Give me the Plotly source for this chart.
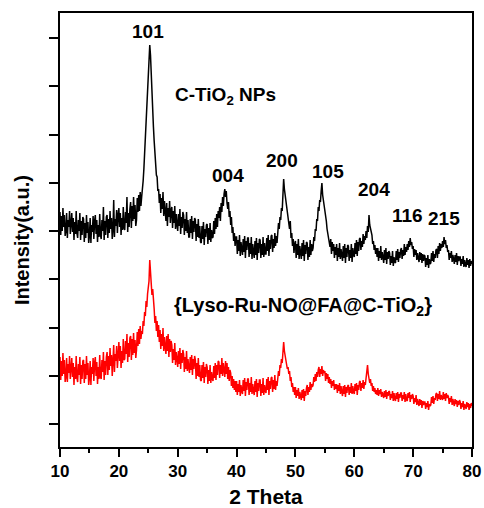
import plotly.graph_objects as go

# Scan settings (2 Theta, degrees)
scan_start = 10.0
scan_step = 0.125

# Intensities (a.u.), 8 readings per degree from 10.000 to 80.000 degrees
c_tio2 = [
    235, 212, 231, 216, 239, 220, 232, 211,
    216, 234, 209, 227, 220, 236, 213, 231,
    234, 215, 229, 207, 225, 213, 236, 214,
    209, 227, 216, 234, 207, 226, 212, 230,
    228, 205, 224, 209, 232, 214, 225, 204,
    211, 229, 204, 222, 215, 231, 208, 226,
    232, 213, 227, 205, 222, 210, 233, 212,
    208, 227, 216, 240, 207, 226, 212, 230,
    232, 209, 228, 214, 236, 218, 229, 208,
    217, 247, 210, 228, 221, 237, 214, 232,
    239, 220, 234, 212, 229, 217, 240, 219,
    217, 235, 224, 250, 215, 234, 220, 238,
    245, 219, 241, 226, 250, 228, 242, 221,
    227, 249, 235, 252, 236, 255, 241, 250,
    256, 266, 278, 292, 305, 322, 338, 355,
    372, 388, 402, 392, 368, 350, 334, 320,
    306, 292, 285, 272, 270, 256, 258, 244,
    253, 234, 249, 238, 255, 231, 246, 233,
    226, 244, 221, 239, 230, 246, 224, 237,
    240, 219, 236, 224, 241, 218, 233, 222,
    216, 233, 221, 238, 213, 230, 219, 235,
    232, 212, 228, 216, 235, 214, 227, 210,
    210, 228, 214, 231, 208, 226, 215, 229,
    227, 206, 223, 210, 228, 209, 221, 205,
    204, 221, 208, 225, 202, 218, 210, 222,
    223, 203, 219, 207, 224, 205, 217, 209,
    210, 226, 213, 229, 218, 233, 220, 236,
    229, 240, 226, 244, 235, 250, 241, 253,
    258, 250, 256, 244, 238, 245, 230, 236,
    222, 230, 214, 220, 206, 214, 201, 210,
    210, 193, 207, 196, 212, 191, 205, 198,
    192, 208, 195, 211, 189, 206, 197, 209,
    209, 190, 204, 193, 210, 188, 203, 195,
    189, 206, 192, 209, 187, 204, 194, 208,
    207, 189, 203, 192, 210, 190, 204, 193,
    193, 209, 196, 212, 191, 207, 198, 211,
    212, 195, 208, 199, 214, 201, 211, 204,
    213, 224, 218, 230, 227, 239, 236, 250,
    268, 258, 252, 244, 241, 232, 226, 222,
    218, 226, 209, 214, 201, 208, 194, 203,
    206, 189, 203, 192, 208, 188, 201, 194,
    188, 204, 191, 207, 186, 202, 193, 205,
    204, 187, 200, 190, 207, 192, 203, 196,
    199, 210, 206, 218, 216, 228, 226, 240,
    236, 247, 245, 256, 264, 252, 247, 240,
    238, 230, 226, 218, 214, 209, 205, 200,
    208, 193, 205, 196, 203, 189, 200, 192,
    203, 186, 199, 190, 204, 188, 198, 191,
    186, 201, 189, 203, 184, 199, 190, 202,
    201, 186, 197, 189, 203, 185, 199, 192,
    190, 204, 193, 207, 191, 205, 196, 208,
    209, 197, 206, 200, 213, 203, 211, 207,
    216, 209, 221, 215, 232, 222, 218, 213,
    212, 203, 206, 197, 202, 193, 199, 190,
    199, 186, 196, 189, 201, 187, 195, 190,
    184, 197, 187, 199, 183, 195, 188, 196,
    194, 182, 191, 184, 196, 181, 190, 185,
    184, 196, 187, 198, 185, 195, 189, 197,
    199, 188, 197, 191, 203, 192, 200, 195,
    203, 197, 206, 200, 209, 202, 205, 198,
    201, 190, 198, 192, 197, 187, 194, 189,
    185, 195, 187, 194, 184, 193, 186, 192,
    191, 180, 189, 182, 192, 179, 188, 183,
    184, 194, 186, 196, 185, 193, 189, 197,
    198, 189, 201, 193, 204, 196, 203, 199,
    206, 200, 210, 203, 207, 199, 202, 195,
    197, 187, 194, 189, 196, 185, 192, 188,
    183, 192, 185, 194, 182, 191, 186, 190,
    190, 181, 188, 183, 191, 180, 187, 182,
    180, 189, 182, 187, 179, 188, 181, 186,
    183,
]

lyso_ru_no = [
    90, 67, 86, 71, 94, 73, 87, 65,
    70, 89, 65, 83, 74, 91, 68, 85,
    89, 70, 84, 62, 80, 68, 91, 69,
    65, 83, 72, 90, 63, 82, 68, 86,
    87, 64, 83, 68, 91, 72, 84, 62,
    69, 86, 62, 80, 73, 89, 66, 84,
    90, 71, 85, 63, 80, 68, 92, 70,
    68, 87, 75, 95, 67, 86, 72, 90,
    95, 72, 91, 77, 99, 81, 92, 71,
    82, 102, 75, 93, 86, 101, 79, 97,
    105, 86, 101, 79, 96, 84, 108, 87,
    88, 106, 93, 113, 85, 104, 90, 109,
    111, 87, 108, 92, 114, 94, 107, 89,
    97, 115, 101, 118, 103, 121, 108, 116,
    113, 126, 121, 135, 131, 146, 140, 153,
    158, 166, 187, 170, 165, 152, 158, 140,
    138, 124, 131, 116, 126, 110, 122, 105,
    117, 98, 113, 101, 119, 96, 110, 100,
    93, 111, 96, 113, 90, 108, 95, 106,
    102, 84, 98, 87, 104, 82, 95, 88,
    80, 96, 83, 99, 78, 94, 84, 97,
    93, 75, 90, 78, 96, 76, 88, 79,
    74, 90, 77, 92, 72, 88, 78, 91,
    87, 68, 84, 71, 89, 70, 82, 67,
    66, 82, 69, 85, 64, 80, 70, 83,
    80, 63, 77, 66, 82, 64, 75, 68,
    66, 81, 69, 84, 67, 82, 72, 86,
    85, 69, 82, 73, 89, 71, 84, 77,
    70, 86, 73, 84, 68, 80, 66, 77,
    74, 61, 71, 59, 68, 57, 66, 55,
    66, 52, 63, 55, 67, 51, 62, 56,
    53, 67, 56, 69, 51, 65, 57, 68,
    68, 52, 64, 55, 70, 53, 63, 56,
    52, 66, 55, 68, 50, 64, 56, 67,
    67, 51, 63, 54, 69, 52, 62, 56,
    54, 68, 57, 70, 52, 66, 58, 69,
    70, 55, 67, 58, 72, 57, 66, 61,
    66, 76, 71, 82, 79, 88, 84, 95,
    105, 96, 92, 86, 84, 78, 80, 73,
    76, 66, 70, 60, 64, 55, 60, 52,
    60, 49, 57, 51, 59, 48, 55, 50,
    47, 57, 49, 58, 46, 56, 51, 59,
    62, 52, 60, 55, 65, 57, 63, 60,
    62, 70, 65, 73, 66, 75, 70, 77,
    80, 70, 78, 73, 81, 71, 77, 74,
    76, 66, 74, 68, 73, 64, 70, 63,
    68, 59, 66, 61, 67, 57, 63, 58,
    63, 54, 62, 56, 64, 53, 61, 55,
    51, 61, 53, 62, 50, 60, 54, 61,
    62, 52, 60, 54, 64, 53, 61, 55,
    53, 63, 56, 64, 52, 62, 57, 65,
    66, 56, 64, 59, 67, 58, 65, 62,
    68, 75, 82, 73, 70, 64, 68, 61,
    64, 56, 61, 55, 59, 53, 57, 52,
    59, 51, 57, 53, 58, 50, 55, 52,
    49, 56, 50, 57, 48, 55, 51, 56,
    55, 47, 53, 49, 56, 46, 54, 48,
    46, 54, 48, 55, 45, 53, 49, 54,
    54, 46, 52, 48, 55, 45, 53, 47,
    46, 54, 49, 55, 45, 52, 48, 53,
    51, 43, 49, 45, 52, 42, 48, 44,
    41, 48, 42, 47, 39, 46, 42, 45,
    45, 38, 44, 40, 46, 37, 43, 41,
    42, 50, 44, 51, 43, 49, 47, 53,
    54, 46, 53, 48, 56, 47, 52, 49,
    47, 55, 48, 53, 46, 54, 49, 52,
    50, 43, 49, 45, 51, 42, 48, 44,
    41, 48, 43, 47, 40, 46, 42, 47,
    45, 38, 44, 40, 46, 37, 43, 41,
    38, 45, 40, 44, 37, 43, 39, 44,
    41,
]

# Peak labels (Miller indices) and their positions
peak_labels = ["101", "004", "200", "105", "204", "116", "215"]
peak_x = [24.9, 38.5, 47.8, 55.45, 63.35, 69.1, 75.25]
peak_y = [416, 272, 287, 276, 258, 232, 229]

x_ticks = [10, 20, 30, 40, 50, 60, 70, 80]
y_ticks = [23 + 48.25 * k for k in range(9)]

FONT = "Liberation Sans, Arial, sans-serif"

fig = go.Figure()
fig.add_trace(go.Scatter(
    x0=scan_start, dx=scan_step, y=c_tio2, mode="lines",
    line=dict(color="black", width=1.5), name="C-TiO2 NPs", showlegend=False,
))
fig.add_trace(go.Scatter(
    x0=scan_start, dx=scan_step, y=lyso_ru_no, mode="lines",
    line=dict(color="#ff0000", width=1.5), name="Lyso-Ru-NO@FA@C-TiO2", showlegend=False,
))

annotations = []
for lab, px, py in zip(peak_labels, peak_x, peak_y):
    annotations.append(dict(x=px, y=py, xref="x", yref="y", text="<b>%s</b>" % lab,
                            showarrow=False, font=dict(family=FONT, size=19, color="black")))
annotations.append(dict(x=29.15, y=351, xref="x", yref="y", xanchor="left", yanchor="middle",
                        text="<b>C-TiO<sub>2</sub> NPs</b>", showarrow=False,
                        font=dict(family=FONT, size=19, color="black")))
annotations.append(dict(x=29.0, y=141, xref="x", yref="y", xanchor="left", yanchor="middle",
                        text="<b>{Lyso-Ru-NO@FA@C-TiO<sub>2</sub>}</b>", showarrow=False,
                        font=dict(family=FONT, size=20, color="black")))
# y-axis title
annotations.append(dict(x=-0.092, y=0.477, xref="paper", yref="paper", xanchor="center",
                        yanchor="middle", textangle=-90, text="<b>Intensity(a.u.)</b>",
                        showarrow=False, font=dict(family=FONT, size=20, color="black")))

fig.update_layout(
    width=484, height=508,
    margin=dict(l=60, r=12, t=13, b=61),
    paper_bgcolor="white", plot_bgcolor="white",
    annotations=annotations,
    xaxis=dict(
        range=[10, 80], tickvals=x_ticks, ticks="outside", ticklen=8, tickwidth=1.5,
        tickcolor="black", showline=True, linewidth=2, linecolor="black", mirror=True,
        showgrid=False, zeroline=False, automargin=False,
        minor=dict(dtick=5, tick0=10, ticks="outside", ticklen=4, tickwidth=1.5, tickcolor="black", showgrid=False),
        tickfont=dict(family=FONT, size=17, color="black", weight="bold"),
        title=dict(text="<b>2 Theta</b>", font=dict(family=FONT, size=21, color="black"), standoff=10),
    ),
    yaxis=dict(
        range=[0, 434], tickvals=y_ticks, ticks="outside", ticklen=9, tickwidth=1.5,
        tickcolor="black", showticklabels=False, showline=True, linewidth=2, linecolor="black",
        mirror=True, showgrid=False, zeroline=False, automargin=False,
    ),
    xaxis2=dict(
        overlaying="x", anchor="y", side="top", range=[10, 80],
        tickvals=[10 + 5 * k for k in range(15)], ticks="outside", ticklen=2, tickwidth=1,
        tickcolor="black", showticklabels=False, showgrid=False, zeroline=False, showline=False,
        automargin=False,
    ),
    yaxis2=dict(
        overlaying="y", anchor="x", side="right", range=[0, 434],
        tickvals=y_ticks, ticks="outside", ticklen=2, tickwidth=1,
        tickcolor="black", showticklabels=False, showgrid=False, zeroline=False, showline=False,
        automargin=False,
    ),
)

fig.write_html(
    "out.html",
    config={"displayModeBar": False},
    post_script="document.body.style.margin='0';document.body.style.padding='0';",
)
